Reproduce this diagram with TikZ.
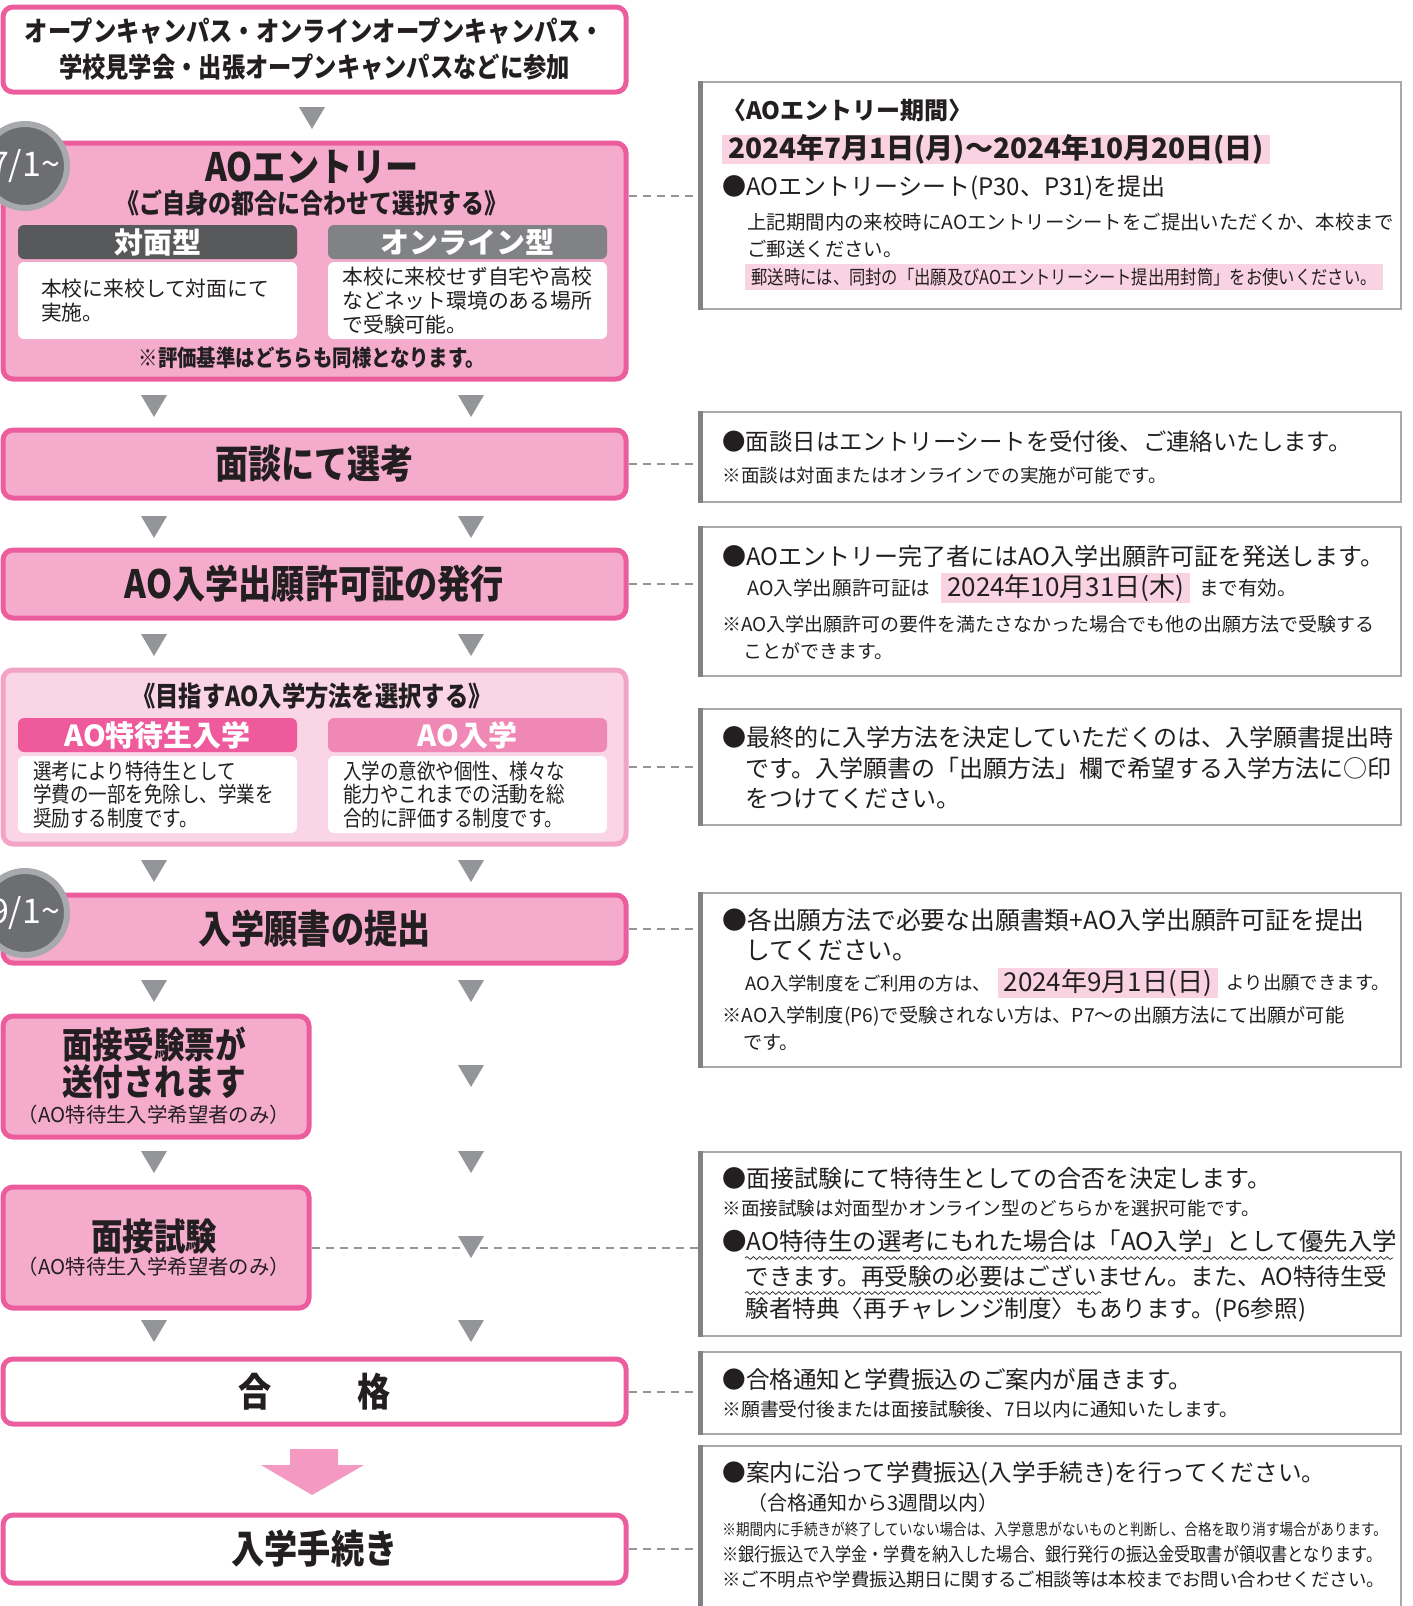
\documentclass[tikz,border=0pt]{standalone}
\usepackage{fontspec}
\setmainfont{Noto Sans CJK JP}
\newfontfamily\narrowjp{Noto Sans CJK JP}[FakeStretch=0.85]
\usetikzlibrary{positioning,decorations.pathmorphing}

\definecolor{ink}{HTML}{231F20}
\definecolor{pinkline}{HTML}{EC5D9E}
\definecolor{pinkfill}{HTML}{F4ABCC}
\definecolor{palefill}{HTML}{F9D5E5}
\definecolor{paleline}{HTML}{F3A3C6}
\definecolor{hotpink}{HTML}{EE5A9C}
\definecolor{midpink}{HTML}{F088B5}
\definecolor{darkgrey}{HTML}{58595B}
\definecolor{midgrey}{HTML}{808285}
\definecolor{trigrey}{HTML}{939598}
\definecolor{circfill}{HTML}{6D6E71}
\definecolor{circline}{HTML}{A7A9AC}
\definecolor{boxline}{HTML}{A7A9AC}
\definecolor{hilite}{HTML}{FAD3E3}
\definecolor{bigpink}{HTML}{F49AC2}

\newcommand\fsz[1]{\fontsize{#1}{#1}\selectfont}

\begin{document}
\begin{tikzpicture}[x=0.5pt,y=-0.5pt,
    every node/.style={inner sep=0pt,text=ink},
    flow/.style={draw=pinkline,line width=2.5pt,rounded corners=5pt,font=\narrowjp\bfseries\fsz{19.5}},
    pinkbox/.style={flow,fill=pinkfill},
    plainbox/.style={flow,fill=white},
    head/.style={rounded corners=3pt,minimum width=139.5pt,minimum height=17pt,text=white,font=\bfseries\fsz{14.5}},
    inbox/.style={fill=white,rounded corners=3pt,minimum width=139.5pt,minimum height=38.5pt,align=left,font=\fontsize{10.4}{12}\selectfont},
    datecirc/.style={circle,fill=circfill,draw=circline,line width=3pt,minimum size=42pt,text=white,font=\fsz{17}},
    note/.style={draw=boxline,line width=0.75pt,minimum width=351pt},
    bul/.style={anchor=west,font=\fsz{12}},
    sub/.style={anchor=west,font=\fsz{9.6}},
    hl/.style={anchor=west,fill=hilite,inner xsep=3pt,minimum height=15pt},
    link/.style={trigrey,line width=1pt,dash pattern=on 4pt off 3pt},
    wavy/.style={ink,line width=0.35pt,decorate,decoration={snake,amplitude=0.7pt,segment length=3.2pt}}]

    \useasboundingbox (0,0) rectangle (1413,1606);

    % Flow (left column)
    \node[plainbox,minimum width=311.5pt,minimum height=42.5pt,align=center,
          font=\narrowjp\bfseries\fontsize{13.7}{18}\selectfont] (visit) at (314.5,49.5)
          {オープンキャンパス・オンラインオープンキャンパス・\\学校見学会・出張オープンキャンパスなどに参加};

    \node[pinkbox,minimum width=311.5pt,minimum height=118pt] (entry) at (314.5,261) {};
    \node[font=\narrowjp\bfseries\fsz{19.5}] (entryt) at (312,167) {AOエントリー};
    \node[font=\narrowjp\bfseries\fsz{13.5}] (entrys) at (312,203) {《ご自身の都合に合わせて選択する》};
    \node[head,fill=darkgrey] (face) at (157.5,242) {対面型};
    \node[head,fill=midgrey] (online) at (467.5,242) {オンライン型};
    \node[inbox,text width=116.5pt] (facet) at (157.5,300.5) {本校に来校して対面にて\\実施。};
    \node[inbox,text width=125pt] (onlinet) at (467.5,300.5) {本校に来校せず自宅や高校\\などネット環境のある場所\\で受験可能。};
    \node[font=\narrowjp\bfseries\fsz{11.4}] (same) at (312,358) {※評価基準はどちらも同様となります。};
    \node[datecirc] (d71) at (25,166) {7/1\textasciitilde};

    \node[pinkbox,minimum width=311.5pt,minimum height=34pt] (mendan) at (314.5,464) {面談にて選考};
    \node[pinkbox,minimum width=311.5pt,minimum height=34pt] (permit) at (314.5,584) {AO入学出願許可証の発行};

    \node[flow,draw=paleline,fill=palefill,minimum width=311.5pt,minimum height=87pt] (choose) at (314.5,757) {};
    \node[font=\narrowjp\bfseries\fsz{13.7}] (chooset) at (312,696) {《目指すAO入学方法を選択する》};
    \node[head,fill=hotpink] (tokutai) at (157.5,735) {AO特待生入学};
    \node[head,fill=midpink] (aoent) at (467.5,735) {AO入学};
    \node[inbox,text width=124.5pt,font=\narrowjp\fontsize{10.9}{11.75}\selectfont] (tokutait) at (157.5,794.5)
          {選考により特待生として\\学費の一部を免除し、学業を\\奨励する制度です。};
    \node[inbox,text width=124.5pt,font=\narrowjp\fontsize{10.9}{11.75}\selectfont] (aoentt) at (467.5,794.5)
          {入学の意欲や個性、様々な\\能力やこれまでの活動を総\\合的に評価する制度です。};

    \node[pinkbox,minimum width=311.5pt,minimum height=34pt] (apply) at (314.5,929) {入学願書の提出};
    \node[datecirc] (d91) at (25,913) {9/1\textasciitilde};

    \node[pinkbox,minimum width=153pt,minimum height=60.5pt] (ticket) at (156,1076.5) {};
    \node[font=\narrowjp\bfseries\fsz{18}] (ticket1) at (154,1044) {面接受験票が};
    \node[font=\narrowjp\bfseries\fsz{18}] (ticket2) at (154,1082) {送付されます};
    \node[font=\fsz{10.2}] (ticket3) at (154,1115) {（AO特待生入学希望者のみ）};

    \node[pinkbox,minimum width=153pt,minimum height=60.5pt] (exam) at (156,1247.5) {};
    \node[font=\narrowjp\bfseries\fsz{18.5}] (exam1) at (154,1236) {面接試験};
    \node[font=\fsz{10.2}] (exam2) at (154,1267) {（AO特待生入学希望者のみ）};

    \node[plainbox,minimum width=311.5pt,minimum height=32.5pt] (pass) at (314.5,1391.5) {合\hspace{2.2em}格};
    \node[plainbox,minimum width=311.5pt,minimum height=34pt] (enrol) at (314.5,1549) {入学手続き};

    % big arrow pass -> enrol
    \fill[bigpink] (290,1449) -- (338,1449) -- (338,1465) -- (364,1465) -- (312,1495)
        -- (261,1465) -- (290,1465) -- cycle;

    % Notes (right column)
    \node[note,minimum height=113.5pt] (r1) at (1050,195.5) {};
    \node[note,minimum height=45pt] (r2) at (1050,457) {};
    \node[note,minimum height=74.5pt] (r3) at (1050,601.5) {};
    \node[note,minimum height=58pt] (r4) at (1050,767) {};
    \node[note,minimum height=87pt] (r5) at (1050,980) {};
    \node[note,minimum height=92pt] (r6) at (1050,1244) {};
    \node[note,minimum height=41pt] (r7) at (1050,1393) {};
    \node[note,minimum height=82pt] (r8) at (1050,1528) {};
    \foreach \b in {r1,r2,r3,r4,r5,r6,r7,r8}
      \draw[midgrey,line width=2.5pt] ([xshift=1.25pt]\b.north west) -- ([xshift=1.25pt]\b.south west);

    \node[bul,font=\bfseries\fsz{12}] (r1a) at (722,110) {〈AOエントリー期間〉};
    \node[hl,font=\bfseries\fsz{14},minimum height=14.5pt] (r1b) at (722,149.5) {2024年7月1日(月)～2024年10月20日(日)};
    \node[bul] (r1c) at (722,188) {●AOエントリーシート(P30、P31)を提出};
    \node[sub,font=\fsz{9.7}] (r1d) at (747,222) {上記期間内の来校時にAOエントリーシートをご提出いただくか、本校まで};
    \node[sub,font=\fsz{9.7}] (r1e) at (747,249) {ご郵送ください。};
    \node[hl,font=\narrowjp\fsz{9.6},minimum height=13pt] (r1f) at (745,277) {郵送時には、同封の「出願及びAOエントリーシート提出用封筒」をお使いください。};

    \node[bul,font=\fsz{11.7}] (r2a) at (722,442) {●面談日はエントリーシートを受付後、ご連絡いたします。};
    \node[sub,font=\fsz{9.3}] (r2b) at (722,475) {※面談は対面またはオンラインでの実施が可能です。};

    \node[bul] (r3a) at (722,556) {●AOエントリー完了者にはAO入学出願許可証を発送します。};
    \node[sub,font=\fsz{9.8}] (r3b) at (747,588) {AO入学出願許可証は};
    \node[hl,font=\fsz{13},right=5pt of r3b] (r3c) {2024年10月31日(木)};
    \node[sub,font=\fsz{9.8},right=4pt of r3c] (r3d) {まで有効。};
    \node[sub,font=\fsz{9.5}] (r3e) at (722,624) {※AO入学出願許可の要件を満たさなかった場合でも他の出願方法で受験する};
    \node[sub,font=\fsz{9.5}] (r3f) at (743,651) {ことができます。};

    \node[bul] (r4a) at (722,737) {●最終的に入学方法を決定していただくのは、入学願書提出時};
    \node[bul] (r4b) at (745,768) {です。入学願書の「出願方法」欄で希望する入学方法に○印};
    \node[bul] (r4c) at (745,799) {をつけてください。};

    \node[bul,font=\fsz{12.4}] (r5a) at (722,920) {●各出願方法で必要な出願書類+AO入学出願許可証を提出};
    \node[bul,font=\fsz{12.4}] (r5b) at (745,950) {してください。};
    \node[sub,font=\fsz{9.2}] (r5c) at (745,983) {AO入学制度をご利用の方は、};
    \node[hl,font=\fsz{13},right=3pt of r5c] (r5d) {2024年9月1日(日)};
    \node[sub,font=\fsz{9.2},right=4pt of r5d] (r5e) {より出願できます。};
    \node[sub] (r5f) at (722,1016) {※AO入学制度(P6)で受験されない方は、P7～の出願方法にて出願が可能};
    \node[sub] (r5g) at (743,1042) {です。};

    \node[bul] (r6a) at (722,1178) {●面接試験にて特待生としての合否を決定します。};
    \node[sub,font=\fsz{9.3}] (r6b) at (722,1208) {※面接試験は対面型かオンライン型のどちらかを選択可能です。};
    \node[bul,font=\fsz{12.2}] (r6c) at (722,1241) {●AO特待生の選考にもれた場合は「AO入学」として優先入学};
    \node[bul,font=\fsz{11.8}] (r6d) at (745,1276) {できます。再受験の必要はございません。また、AO特待生受};
    \node[bul,font=\fsz{11.8}] (r6e) at (745,1310) {験者特典〈再チャレンジ制度〉もあります。(P6参照)};
    \draw[wavy] (745,1258) -- (1393,1258);
    \draw[wavy] (745,1293) -- (1101,1293);

    \node[bul,font=\fsz{11.8}] (r7a) at (722,1379) {●合格通知と学費振込のご案内が届きます。};
    \node[sub,font=\fsz{9.4}] (r7b) at (722,1409) {※願書受付後または面接試験後、7日以内に通知いたします。};

    \node[bul,font=\fsz{11.8}] (r8a) at (722,1474) {●案内に沿って学費振込(入学手続き)を行ってください。};
    \node[sub,font=\fsz{10}] (r8b) at (747,1503) {（合格通知から3週間以内）};
    \node[sub,font=\narrowjp\fsz{8}] (r8c) at (722,1529) {※期間内に手続きが終了していない場合は、入学意思がないものと判断し、合格を取り消す場合があります。};
    \node[sub,font=\narrowjp\fsz{9.5}] (r8d) at (722,1554) {※銀行振込で入学金・学費を納入した場合、銀行発行の振込金受取書が領収書となります。};
    \node[sub,font=\fsz{9.2}] (r8e) at (722,1580) {※ご不明点や学費振込期日に関するご相談等は本校までお問い合わせください。};

    % dashed links
    \draw[link] (entry.east |- r1.west) -- (r1.west);
    \draw[link] (mendan.east) -- (mendan.east -| r2.west);
    \draw[link] (permit.east) -- (permit.east -| r3.west);
    \draw[link] (choose.east |- r4.west) -- (r4.west);
    \draw[link] (apply.east) -- (apply.east -| r5.west);
    \draw[link] (exam.east) -- (exam.east -| r6.west);
    \draw[link] (pass.east) -- (pass.east -| r7.west);
    \draw[link] (enrol.east) -- (enrol.east -| r8.west);

    % flow triangles
    \foreach \x/\y in {312/118,154/406,471/406,154/527,471/527,154/645,471/645,
                       154/871,471/871,154/991,471/991,471/1076,154/1162,471/1162,
                       471/1247,154/1331,471/1331}
      \fill[trigrey] (\x-13,\y-11) -- (\x+13,\y-11) -- (\x,\y+11) -- cycle;
  \end{tikzpicture}
\end{document}
